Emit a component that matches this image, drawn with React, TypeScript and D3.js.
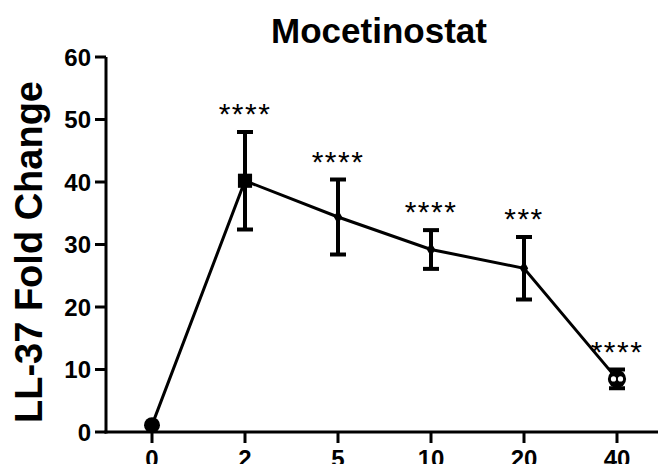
import React from "react";
import * as d3 from "d3";

const doses = ["0", "2", "5", "10", "20", "40"];
const means = [1.1, 40.2, 34.4, 29.2, 26.2, 8.5];
const sems = [0, 7.8, 6.0, 3.1, 5.0, 1.5];
const stars = ["", "****", "****", "****", "***", "****"];
const yTicks = [0, 10, 20, 30, 40, 50, 60];

const W = 658;
const H = 464;
const font = "'Liberation Sans', Arial, sans-serif";

const x = d3.scalePoint<string>().domain(doses).range([152, 617]);
const y = d3.scaleLinear().domain([0, 60]).range([432, 57]);

const line = d3
    .line<number>()
    .x((d, i) => x(doses[i]) as number)
    .y((d) => y(d));

const symbolFor = (i: number) => {
    if (i === 0) return d3.symbol(d3.symbolCircle, 200)();
    if (i === 1) return d3.symbol(d3.symbolSquare, 200)();
    if (i === 5) return d3.symbol(d3.symbolCircle, 260)();
    return d3.symbol(d3.symbolDiamond, 60)();
};

const App = () => {
    return (
        <svg
            width={W}
            height={H}
            style={{ position: "absolute", left: 0, top: 0, background: "#fff" }}
            fontFamily={font}
        >
            {/* title */}
            <text x={379} y={43} textAnchor="middle" fontSize={35} fontWeight="bold">
                Mocetinostat
            </text>

            {/* y label */}
            <text
                transform="translate(42,252) rotate(-90)"
                textAnchor="middle"
                fontSize={38}
                fontWeight="bold"
            >
                LL-37 Fold Change
            </text>

            {/* y axis */}
            <line x1={106} x2={106} y1={y(60)} y2={y(0) + 1.5} stroke="#000" strokeWidth={3} />
            {yTicks.map((t) => (
                <g key={t}>
                    <line x1={95} x2={106} y1={y(t)} y2={y(t)} stroke="#000" strokeWidth={3} />
                    <text
                        x={91}
                        y={y(t)}
                        dy="0.36em"
                        textAnchor="end"
                        fontSize={24}
                        fontWeight="bold"
                    >
                        {t}
                    </text>
                </g>
            ))}

            {/* x axis */}
            <line x1={104.5} x2={W} y1={y(0)} y2={y(0)} stroke="#000" strokeWidth={3} />
            {doses.map((d) => (
                <g key={d}>
                    <line
                        x1={x(d)}
                        x2={x(d)}
                        y1={y(0)}
                        y2={y(0) + 11}
                        stroke="#000"
                        strokeWidth={3}
                    />
                    <text
                        x={x(d)}
                        y={y(0) + 35}
                        textAnchor="middle"
                        fontSize={24}
                        fontWeight="bold"
                    >
                        {d}
                    </text>
                </g>
            ))}

            {/* connecting line */}
            <path d={line(means) || ""} fill="none" stroke="#000" strokeWidth={3} />

            {/* error bars */}
            {means.map((m, i) =>
                sems[i] > 0 ? (
                    <g key={"e" + i} stroke="#000" strokeWidth={4}>
                        <line
                            x1={x(doses[i])}
                            x2={x(doses[i])}
                            y1={y(m + sems[i])}
                            y2={y(m - sems[i])}
                        />
                        <line
                            x1={(x(doses[i]) as number) - 8}
                            x2={(x(doses[i]) as number) + 8}
                            y1={y(m + sems[i])}
                            y2={y(m + sems[i])}
                        />
                        <line
                            x1={(x(doses[i]) as number) - 8}
                            x2={(x(doses[i]) as number) + 8}
                            y1={y(m - sems[i])}
                            y2={y(m - sems[i])}
                        />
                    </g>
                ) : null
            )}

            {/* markers */}
            {means.map((m, i) => (
                <g key={"m" + i} transform={`translate(${x(doses[i])},${y(m)})`}>
                    <path d={symbolFor(i) || ""} fill="#000" />
                    {i === 5 && (
                        <g fill="#fff">
                            <circle cx={-3.5} cy={0} r={2.6} />
                            <circle cx={3.5} cy={0} r={2.6} />
                        </g>
                    )}
                </g>
            ))}

            {/* significance */}
            {means.map((m, i) =>
                stars[i] ? (
                    <text
                        key={"s" + i}
                        x={x(doses[i])}
                        y={y(m + sems[i]) - 8}
                        textAnchor="middle"
                        fontSize={30}
                        letterSpacing={1.5}
                    >
                        {stars[i]}
                    </text>
                ) : null
            )}
        </svg>
    );
};

export default App;
